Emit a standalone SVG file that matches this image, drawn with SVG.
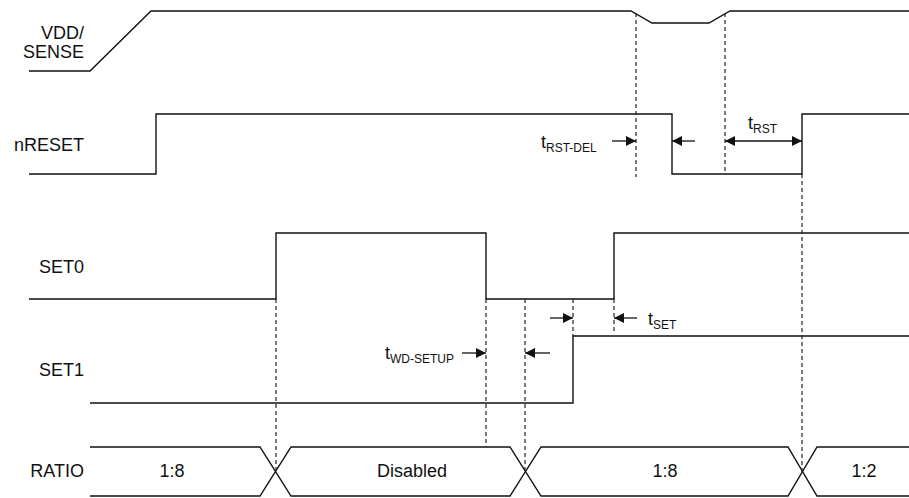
<svg xmlns="http://www.w3.org/2000/svg" width="909" height="498" viewBox="0 0 909 498">
<style>
.sig{fill:none;stroke:#111;stroke-width:1.4;stroke-linejoin:miter}
.dash{fill:none;stroke:#222;stroke-width:1.2;stroke-dasharray:4,3}
.arr{fill:none;stroke:#111;stroke-width:1.3}
.lbl{font-family:"Liberation Sans",Arial,sans-serif;font-size:18px;fill:#111}
.sub{font-size:12px}
</style>
<defs>
<marker id="ah" viewBox="0 0 10 10" refX="10" refY="5" markerWidth="10" markerHeight="10" markerUnits="userSpaceOnUse" orient="auto-start-reverse">
<path d="M0,0 L10,5 L0,10 Z" fill="#111"/>
</marker>
</defs>
<rect width="909" height="498" fill="#fff"/>
<g id="labels" class="lbl" text-anchor="end">
<text x="84" y="39">VDD/</text>
<text x="84" y="58">SENSE</text>
<text x="84" y="151">nRESET</text>
<text x="84" y="273">SET0</text>
<text x="84" y="376">SET1</text>
<text x="84" y="477">RATIO</text>
</g>
<g id="signals">
<path id="vdd" class="sig" d="M29,71 L90,71 L151,11 L631,11 L652,23 L709,23 L730,11 L909,11"/>
<path id="nreset" class="sig" d="M29,174 L156,174 L156,114 L672,114 L672,174 L802,174 L802,114 L909,114"/>
<path id="set0" class="sig" d="M29,299 L276,299 L276,233 L486,233 L486,299 L614,299 L614,233 L909,233"/>
<path id="set1" class="sig" d="M90,403 L573,403 L573,336 L909,336"/>
<g id="ratio">
<path class="sig" d="M90,447 H260 L291,496 H510 L541,447 H788 L817,496 H909"/>
<path class="sig" d="M90,496 H260 L291,447 H510 L541,496 H788 L817,447 H909"/>
<g class="lbl" text-anchor="middle">
<text x="172" y="477">1:8</text>
<text x="412" y="477">Disabled</text>
<text x="665" y="477">1:8</text>
<text x="864" y="477">1:2</text>
</g>
</g>
</g>
<g id="connectors">
<path class="dash" d="M636,13 V177 M725,13 V174 M802,174 V472 M276,299 V472 M486,299 V447 M525,299 V472 M573,299 V336 M614,299 V334"/>
<path class="arr" d="M612,141 H636" marker-end="url(#ah)"/>
<path class="arr" d="M695,141 H672" marker-end="url(#ah)"/>
<path class="arr" d="M725,141 H802" marker-start="url(#ah)" marker-end="url(#ah)"/>
<path class="arr" d="M550,318 H573" marker-end="url(#ah)"/>
<path class="arr" d="M637,318 H614" marker-end="url(#ah)"/>
<path class="arr" d="M462,353 H486" marker-end="url(#ah)"/>
<path class="arr" d="M550,353 H525" marker-end="url(#ah)"/>
</g>
<g id="timing-labels" class="lbl">
<text x="748" y="129">t<tspan class="sub" dy="4">RST</tspan></text>
<text x="541" y="148">t<tspan class="sub" dy="4">RST-DEL</tspan></text>
<text x="648" y="325">t<tspan class="sub" dy="4">SET</tspan></text>
<text x="385" y="359">t<tspan class="sub" dy="4">WD-SETUP</tspan></text>
</g>
</svg>
